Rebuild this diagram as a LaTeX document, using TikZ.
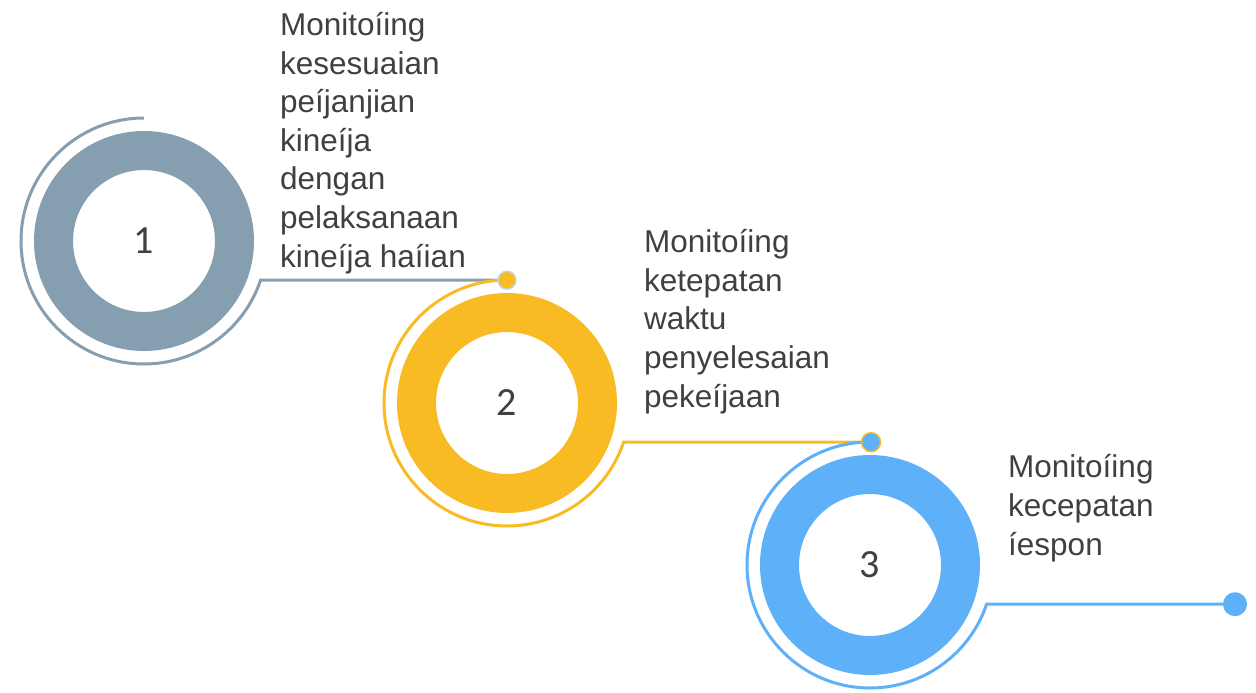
\documentclass[tikz,border=0pt]{standalone}
\usepackage{fontspec}
\setmainfont{Liberation Sans}
\newfontfamily\numfont{Carlito}
\begin{document}
\definecolor{slate}{HTML}{869FB0}
\definecolor{amber}{HTML}{F9BB24}
\definecolor{sky}{HTML}{5EB0F8}
\definecolor{ink}{HTML}{404040}
\definecolor{halo}{HTML}{C9D5DD}
\begin{tikzpicture}[x=1pt,y=1pt,
  ring/.style={circle, draw=#1, line width=39pt, minimum size=181pt, inner sep=0pt,
    font=\numfont\fontsize{40}{40}\selectfont, text=ink},
  guide/.style={draw=#1, line width=3pt},
  label/.style={anchor=base west, align=left, inner sep=0pt, text=ink,
    font=\fontsize{31.5}{38.6}\selectfont},
  dot/.style={circle, inner sep=0pt, minimum size=#1}]
\useasboundingbox (0,0) rectangle (1256,-693);

% rings with their step numbers
\node[ring=slate] (c1) at (144,-241) {1};
\node[ring=amber] (c2) at (507,-403) {2};
\node[ring=sky]   (c3) at (870,-565) {3};

% end points of the connectors, level with the arc ends
\coordinate (p1) at (507,-280.2);
\coordinate (p2) at (871,-442.2);
\coordinate (p3) at (1235,-604.2);

% outer arcs running into the horizontal connectors
\draw[guide=slate] (c1.center) ++(90:123) arc[start angle=90, end angle=341.4, radius=123] -- (p1);
\draw[guide=amber] (c2.center) ++(90:123) arc[start angle=90, end angle=341.4, radius=123] -- (p2);
\draw[guide=sky]   (c3.center) ++(90:123) arc[start angle=90, end angle=341.4, radius=123] -- (p3);

% end dots
\node[dot=18pt, fill=amber, draw=halo, line width=1.5pt] (d1) at (p1) {};
\node[dot=19pt, fill=sky, draw=amber, line width=1.5pt] (d2) at (p2) {};
\node[dot=24pt, fill=sky] (d3) at (p3) {};

% descriptions (anchored at the baseline of the last line)
\node[label] (t1) at (280,-267) {Monitoíing\\kesesuaian\\peíjanjian\\kineíja\\dengan\\pelaksanaan\\kineíja haíian};
\node[label] (t2) at (644,-407) {Monitoíing\\ketepatan\\waktu\\penyelesaian\\pekeíjaan};
\node[label] (t3) at (1008,-555) {Monitoíing\\kecepatan\\íespon};
\end{tikzpicture}
\end{document}
